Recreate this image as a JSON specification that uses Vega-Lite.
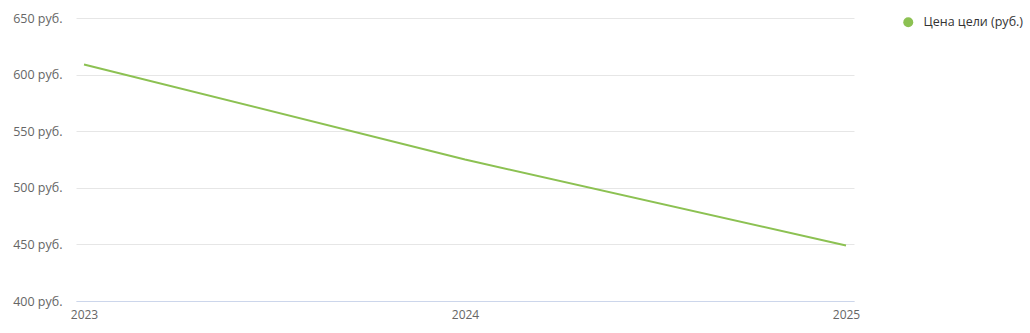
{
  "$schema": "https://vega.github.io/schema/vega-lite/v6.json",
  "width": 778,
  "height": 283,
  "padding": {"left": 76, "top": 18, "right": 176, "bottom": 32},
  "autosize": {"type": "none"},
  "background": "white",
  "data": {"values": [
    {"year": "2023", "value": 609, "series": "Цена цели (руб.)"},
    {"year": "2024", "value": 525, "series": "Цена цели (руб.)"},
    {"year": "2025", "value": 449, "series": "Цена цели (руб.)"}
  ]},
  "mark": {"type": "line", "strokeWidth": 2},
  "encoding": {
    "x": {
      "field": "year", "type": "ordinal",
      "scale": {"type": "point", "padding": 0.021},
      "axis": {"title": null, "labelAngle": 0, "ticks": false, "domainColor": "#ccd6eb", "labelColor": "#666666", "labelFont": "Open Sans", "labelFontSize": 12, "labelPadding": 8, "grid": false}
    },
    "y": {
      "field": "value", "type": "quantitative",
      "scale": {"domain": [400, 650], "nice": false, "zero": false},
      "axis": {"title": null, "values": [400, 450, 500, 550, 600, 650], "labelExpr": "datum.value + ' руб.'", "ticks": false, "domain": false, "gridColor": "#e6e6e6", "labelColor": "#666666", "labelFont": "Open Sans", "labelFontSize": 12.5, "labelPadding": 14}
    },
    "color": {
      "field": "series", "type": "nominal",
      "scale": {"range": ["#8cc152"]},
      "legend": {"title": null, "orient": "none", "legendX": 826, "legendY": -2, "symbolType": "circle", "symbolFillColor": "#8cc152", "symbolStrokeWidth": 0, "symbolSize": 100, "symbolOpacity": 1, "labelOffset": 9, "labelFont": "Open Sans", "labelFontSize": 12.5, "labelColor": "#333333", "labelFontWeight": "normal"}
    }
  },
  "config": {"view": {"stroke": null}}
}
